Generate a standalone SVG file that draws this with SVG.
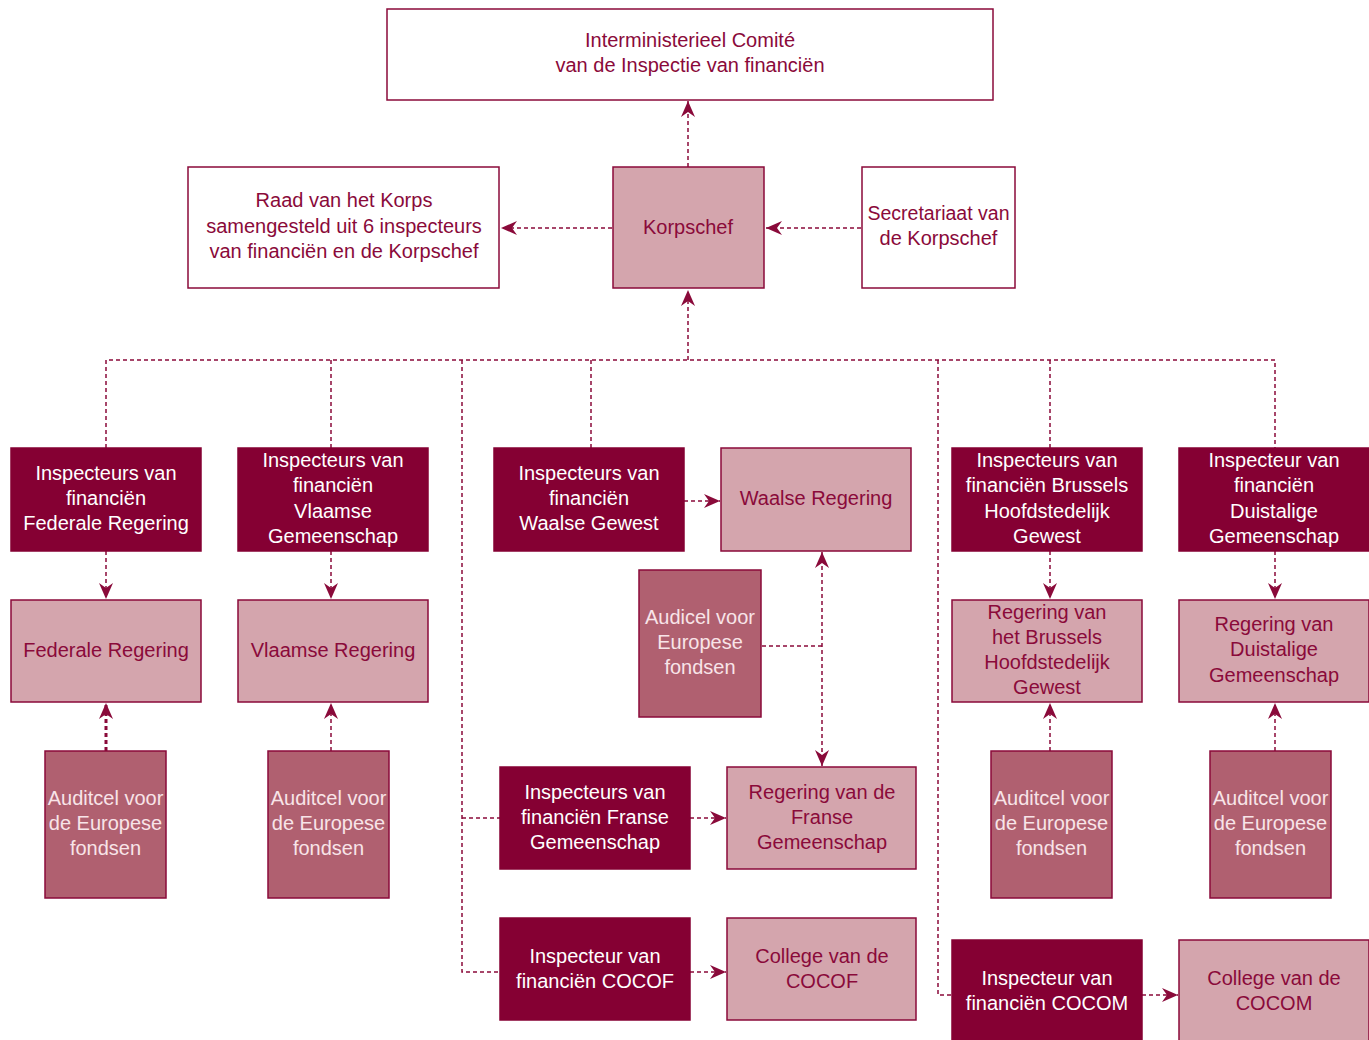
<svg xmlns="http://www.w3.org/2000/svg" width="1369" height="1040" viewBox="0 0 1369 1040">
<style>
text{font-family:"Liberation Sans",Arial,sans-serif;font-size:20px;text-anchor:middle;dominant-baseline:central}
.w rect{fill:#fff;stroke:#8a0a3a;stroke-width:1.5}
.w text,.l text{fill:#8a0a3a}
.d rect{fill:#850033;stroke:#850033;stroke-width:1.5}
.d text{fill:#fff}
.l rect{fill:#d4a5ad;stroke:#8a0a3a;stroke-width:1.5}
.m rect{fill:#b06070;stroke:#8a0a3a;stroke-width:1.5}
.m text{fill:#f8e4e8}
#connectors path{fill:none;stroke:#8a0a3a;stroke-width:1.5;stroke-dasharray:4 3}
</style>
<defs>
<marker id="ah" markerUnits="userSpaceOnUse" markerWidth="18" markerHeight="14" refX="16" refY="7" orient="auto-start-reverse" viewBox="0 0 18 14">
<path d="M0,0 L16,7 L0,14 L5,7 z" fill="#8a0a3a"/>
</marker>
</defs>
<rect width="1369" height="1040" fill="#fff"/>
<g id="connectors">
<path d="M688,167 V101" marker-end="url(#ah)"/>
<path d="M612,228 H501" marker-end="url(#ah)"/>
<path d="M861,228 H766" marker-end="url(#ah)"/>
<path d="M688,360 V290" marker-end="url(#ah)"/>
<path d="M106,448 V360 H1275 V448"/>
<path d="M331,360 V448"/>
<path d="M591,360 V448"/>
<path d="M1050,360 V448"/>
<path d="M462,360 V972 H500"/>
<path d="M462,818 H500"/>
<path d="M938,360 V995 H952"/>
<path d="M106,551 V599" marker-end="url(#ah)"/>
<path d="M331,551 V599" marker-end="url(#ah)"/>
<path d="M1050,551 V599" marker-end="url(#ah)"/>
<path d="M1275,551 V599" marker-end="url(#ah)"/>
<path d="M106,751 V703" marker-end="url(#ah)" style="stroke-width:3"/>
<path d="M331,751 V703" marker-end="url(#ah)"/>
<path d="M1050,751 V703" marker-end="url(#ah)"/>
<path d="M1275,751 V703" marker-end="url(#ah)"/>
<path d="M684,501 H720" marker-end="url(#ah)"/>
<path d="M762,646 H822"/>
<path d="M822,552 V766" marker-start="url(#ah)" marker-end="url(#ah)"/>
<path d="M690,818 H726" marker-end="url(#ah)"/>
<path d="M690,972 H726" marker-end="url(#ah)"/>
<path d="M1142,995 H1178" marker-end="url(#ah)"/>
</g>
<g id="comite" class="w"><rect x="387" y="9" width="606" height="91"/><text x="690" y="40">Interministerieel Comité</text><text x="690" y="65">van de Inspectie van financiën</text></g>
<g id="raad" class="w"><rect x="188" y="167" width="311" height="121"/><text x="344" y="200">Raad van het Korps</text><text x="344" y="226">samengesteld uit 6 inspecteurs</text><text x="344" y="251">van financiën en de Korpschef</text></g>
<g id="korpschef" class="l"><rect x="613" y="167" width="151" height="121"/><text x="688" y="227">Korpschef</text></g>
<g id="secretariaat" class="w"><rect x="862" y="167" width="153" height="121"/><text x="938.5" y="213" style="font-size:19.5px">Secretariaat van</text><text x="938.5" y="238">de Korpschef</text></g>
<g id="insp-federaal" class="d"><rect x="11" y="448" width="190" height="103"/><text x="106" y="473">Inspecteurs van</text><text x="106" y="498">financiën</text><text x="106" y="523">Federale Regering</text></g>
<g id="insp-vlaams" class="d"><rect x="238" y="448" width="190" height="103"/><text x="333" y="460">Inspecteurs van</text><text x="333" y="485">financiën</text><text x="333" y="511">Vlaamse</text><text x="333" y="536">Gemeenschap</text></g>
<g id="insp-waals" class="d"><rect x="494" y="448" width="190" height="103"/><text x="589" y="473">Inspecteurs van</text><text x="589" y="498">financiën</text><text x="589" y="523">Waalse Gewest</text></g>
<g id="waalse-regering" class="l"><rect x="721" y="448" width="190" height="103"/><text x="816" y="498">Waalse Regering</text></g>
<g id="insp-brussel" class="d"><rect x="952" y="448" width="190" height="103"/><text x="1047" y="460">Inspecteurs van</text><text x="1047" y="485">financiën Brussels</text><text x="1047" y="511">Hoofdstedelijk</text><text x="1047" y="536">Gewest</text></g>
<g id="insp-duits" class="d"><rect x="1179" y="448" width="190" height="103"/><text x="1274" y="460">Inspecteur van</text><text x="1274" y="485">financiën</text><text x="1274" y="511">Duistalige</text><text x="1274" y="536">Gemeenschap</text></g>
<g id="federale-regering" class="l"><rect x="11" y="600" width="190" height="102"/><text x="106" y="650">Federale Regering</text></g>
<g id="vlaamse-regering" class="l"><rect x="238" y="600" width="190" height="102"/><text x="333" y="650">Vlaamse Regering</text></g>
<g id="brusselse-regering" class="l"><rect x="952" y="600" width="190" height="102"/><text x="1047" y="612">Regering van</text><text x="1047" y="637">het Brussels</text><text x="1047" y="662">Hoofdstedelijk</text><text x="1047" y="687">Gewest</text></g>
<g id="duitse-regering" class="l"><rect x="1179" y="600" width="190" height="102"/><text x="1274" y="624">Regering van</text><text x="1274" y="649">Duistalige</text><text x="1274" y="675">Gemeenschap</text></g>
<g id="audicel-waals" class="m"><rect x="639" y="570" width="122" height="147"/><text x="700" y="617">Audicel voor</text><text x="700" y="642">Europese</text><text x="700" y="667">fondsen</text></g>
<g id="auditcel-federaal" class="m"><rect x="45" y="751" width="121" height="147"/><text x="105.5" y="798">Auditcel voor</text><text x="105.5" y="823">de Europese</text><text x="105.5" y="848">fondsen</text></g>
<g id="auditcel-vlaams" class="m"><rect x="268" y="751" width="121" height="147"/><text x="328.5" y="798">Auditcel voor</text><text x="328.5" y="823">de Europese</text><text x="328.5" y="848">fondsen</text></g>
<g id="auditcel-brussel" class="m"><rect x="991" y="751" width="121" height="147"/><text x="1051.5" y="798">Auditcel voor</text><text x="1051.5" y="823">de Europese</text><text x="1051.5" y="848">fondsen</text></g>
<g id="auditcel-duits" class="m"><rect x="1210" y="751" width="121" height="147"/><text x="1270.5" y="798">Auditcel voor</text><text x="1270.5" y="823">de Europese</text><text x="1270.5" y="848">fondsen</text></g>
<g id="insp-frans" class="d"><rect x="500" y="767" width="190" height="102"/><text x="595" y="792">Inspecteurs van</text><text x="595" y="817">financiën Franse</text><text x="595" y="842">Gemeenschap</text></g>
<g id="franse-regering" class="l"><rect x="727" y="767" width="189" height="102"/><text x="822" y="792">Regering van de</text><text x="822" y="817">Franse</text><text x="822" y="842">Gemeenschap</text></g>
<g id="insp-cocof" class="d"><rect x="500" y="918" width="190" height="102"/><text x="595" y="956">Inspecteur van</text><text x="595" y="981">financiën COCOF</text></g>
<g id="college-cocof" class="l"><rect x="727" y="918" width="189" height="102"/><text x="822" y="956">College van de</text><text x="822" y="981">COCOF</text></g>
<g id="insp-cocom" class="d"><rect x="952" y="940" width="190" height="102"/><text x="1047" y="978">Inspecteur van</text><text x="1047" y="1003">financiën COCOM</text></g>
<g id="college-cocom" class="l"><rect x="1179" y="940" width="190" height="102"/><text x="1274" y="978">College van de</text><text x="1274" y="1003">COCOM</text></g>
</svg>
